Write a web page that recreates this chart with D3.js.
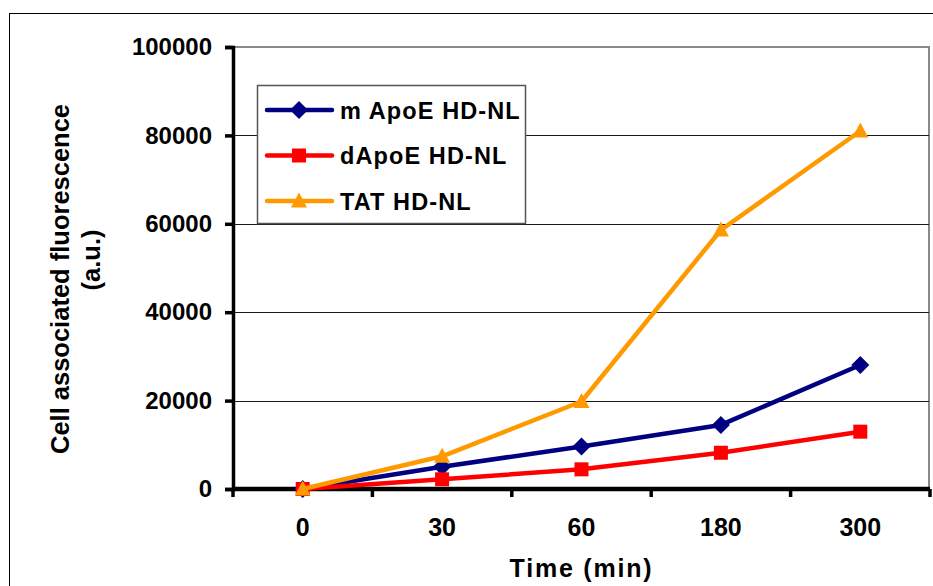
<!DOCTYPE html>
<html>
<head>
<meta charset="utf-8">
<script src="https://cdn.jsdelivr.net/npm/d3@7"></script>
<style>
  html, body { margin: 0; padding: 0; background: #fff; }
  svg { display: block; font-family: "Liberation Sans", Arial, sans-serif; font-weight: bold; }
</style>
</head>
<body>
<svg id="chart" width="933" height="586"></svg>
<script>
// Time points (category axis) and measured fluorescence per construct
const times = ["0", "30", "60", "180", "300"];
const mApoE = [0, 5050, 9600, 14500, 28050];
const dApoE = [0, 2200, 4450, 8200, 12970];
const tat = [0, 7400, 19800, 58600, 81000];
const yTicks = [0, 20000, 40000, 60000, 80000, 100000];
const seriesNames = ["m ApoE HD-NL", "dApoE HD-NL", "TAT HD-NL"];
const seriesColors = ["#000080", "#FF0000", "#FF9900"];
const seriesShapes = ["diamond", "square", "triangle"];

const series = [mApoE, dApoE, tat].map((vals, i) => ({
  name: seriesNames[i], color: seriesColors[i], shape: seriesShapes[i], values: vals
}));

const svg = d3.select("#chart");
const plot = { left: 233, right: 930, top: 47, bottom: 489 };

const x = d3.scaleBand().domain(times).range([plot.left, plot.right]).padding(0);
const y = d3.scaleLinear().domain([0, 100000]).range([plot.bottom, plot.top]);

// Outer chart frame
svg.append("rect")
  .attr("x", 9.5).attr("y", 13.5).attr("width", 940).attr("height", 600)
  .attr("fill", "none").attr("stroke", "#000").attr("stroke-width", 1);

// Plot area frame (gray)
svg.append("rect")
  .attr("x", plot.left).attr("y", plot.top).attr("width", plot.right - plot.left - 1)
  .attr("height", plot.bottom - plot.top)
  .attr("fill", "none").attr("stroke", "#8a8a8a").attr("stroke-width", 2);

// Horizontal gridlines
svg.append("g").selectAll("line")
  .data(yTicks.filter(d => d > 0 && d < 100000))
  .join("line")
  .attr("x1", plot.left).attr("x2", plot.right - 1)
  .attr("y1", d => Math.round(y(d)) + 0.5).attr("y2", d => Math.round(y(d)) + 0.5)
  .attr("stroke", "#1a1a1a").attr("stroke-width", 1.2);

// Y axis
const yAxis = svg.append("g")
  .attr("transform", `translate(${plot.left},0)`)
  .call(d3.axisLeft(y).tickValues(yTicks).tickSize(8).tickPadding(13).tickFormat(d3.format("d")));
yAxis.select(".domain").attr("stroke", "#000").attr("stroke-width", 3.5);
yAxis.selectAll(".tick line").attr("stroke", "#000").attr("stroke-width", 3.5);
yAxis.selectAll(".tick text")
  .attr("fill", "#000").attr("font-size", 24).attr("font-weight", "bold")
  .attr("font-family", "Liberation Sans, Arial, sans-serif");

// X axis: tick marks on category boundaries, labels at centres
const xAxis = svg.append("g").attr("transform", `translate(0,${plot.bottom})`);
xAxis.append("line")
  .attr("x1", plot.left).attr("x2", plot.right)
  .attr("stroke", "#000").attr("stroke-width", 4.5);
const boundaries = times.map(t => x(t)).concat([x(times[times.length - 1]) + x.bandwidth()]);
xAxis.selectAll("line.tick").data(boundaries).join("line")
  .attr("class", "tick")
  .attr("x1", d => d).attr("x2", d => d).attr("y1", 0).attr("y2", 8)
  .attr("stroke", "#000").attr("stroke-width", 3.5);
xAxis.selectAll("text").data(times).join("text")
  .attr("x", d => x(d) + x.bandwidth() / 2).attr("y", 47)
  .attr("text-anchor", "middle").attr("font-size", 25).attr("fill", "#000")
  .text(d => d);

// Axis titles
svg.append("text")
  .attr("x", (plot.left + plot.right) / 2).attr("y", 577)
  .attr("text-anchor", "middle").attr("font-size", 25).attr("letter-spacing", 1.8)
  .text("Time (min)");

svg.append("text")
  .attr("transform", "translate(69,279) rotate(-90)")
  .attr("text-anchor", "middle").attr("font-size", 25.5)
  .text("Cell associated fluorescence");
svg.append("text")
  .attr("transform", "translate(100,260) rotate(-90)")
  .attr("text-anchor", "middle").attr("font-size", 25.5)
  .text("(a.u.)");

// Marker shapes
function shapePath(shape) {
  if (shape === "diamond") return "M0,-9L9,0L0,9L-9,0Z";
  if (shape === "square") return "M-7,-7H7V7H-7Z";
  return "M0,-8.5L8,6.5H-8Z";
}

const line = d3.line().x((d, i) => x(times[i]) + x.bandwidth() / 2).y(d => y(d));

series.forEach(s => {
  const g = svg.append("g");
  g.append("path")
    .attr("d", line(s.values))
    .attr("fill", "none").attr("stroke", s.color).attr("stroke-width", 4.5)
    .attr("stroke-linejoin", "round");
  g.selectAll("path.m").data(s.values).join("path")
    .attr("class", "m")
    .attr("transform", (d, i) => `translate(${x(times[i]) + x.bandwidth() / 2},${y(d)})`)
    .attr("d", shapePath(s.shape))
    .attr("fill", s.color);
});

// Legend
const legend = svg.append("g");
legend.append("rect")
  .attr("x", 257.5).attr("y", 85.5).attr("width", 268).attr("height", 138)
  .attr("fill", "#fff").attr("stroke", "#555").attr("stroke-width", 1.5);
series.forEach((s, i) => {
  const cy = 110 + i * 45.5;
  legend.append("line")
    .attr("x1", 267).attr("x2", 332).attr("y1", cy).attr("y2", cy)
    .attr("stroke", s.color).attr("stroke-width", 4.5).attr("stroke-linecap", "round");
  legend.append("path")
    .attr("transform", `translate(299,${cy})`)
    .attr("d", shapePath(s.shape)).attr("fill", s.color);
  legend.append("text")
    .attr("x", 340).attr("y", cy + 8.5)
    .attr("font-size", 23.5).attr("letter-spacing", 1.1).attr("fill", "#000")
    .text(s.name);
});
</script>
</body>
</html>
